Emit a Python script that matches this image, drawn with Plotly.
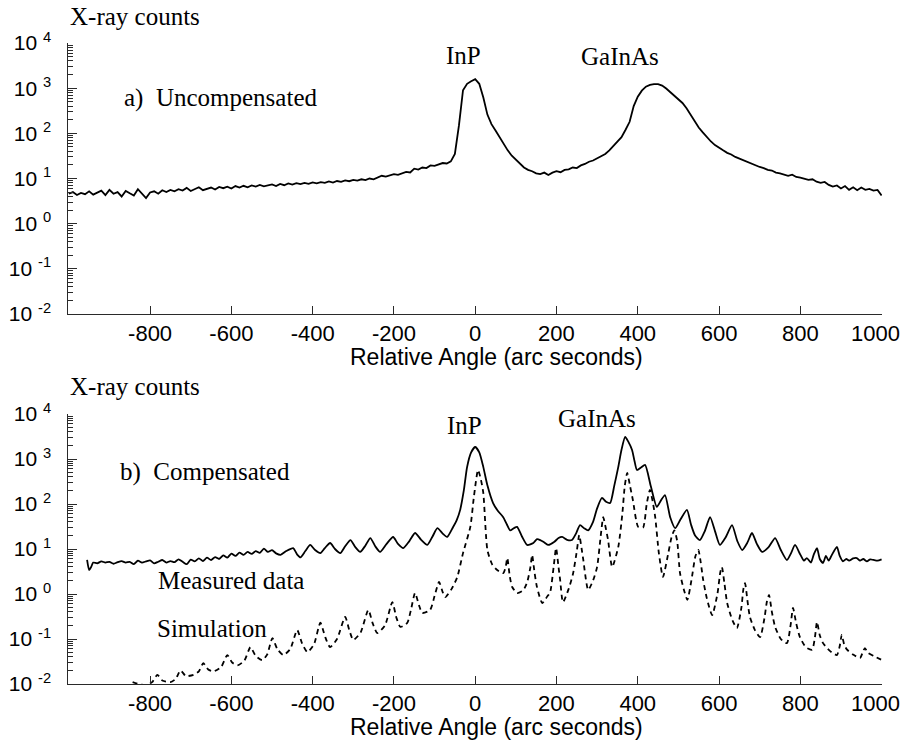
import plotly.graph_objects as go

# ---------------- data ----------------
# a) Uncompensated: measured X-ray counts, sampled every 10 arc seconds
angle_a = list(range(-1000, 1001, 10))
counts_a = [
    4.6, 5.0, 4.3, 4.8, 4.5, 5.2, 4.4, 4.9, 5.4, 4.3,
    5.6, 4.6, 5.0, 4.0, 5.3, 4.7, 4.2, 5.8, 4.5, 3.7,
    4.9, 5.2, 4.6, 5.5, 5.0, 5.6, 5.2, 5.8, 5.4, 6.2,
    5.3, 5.9, 6.4, 5.5, 6.0, 6.3, 5.7, 6.5, 6.1, 6.6,
    6.0, 6.8, 6.3, 6.9, 6.4, 7.0, 6.6, 7.2, 6.7, 7.0,
    7.4, 6.8, 7.6, 7.1, 7.8, 7.3, 7.9, 7.5, 8.0, 7.6,
    8.2, 7.8, 8.3, 8.0, 8.6, 8.1, 8.8, 8.4, 9.1, 8.7,
    9.3, 9.0, 9.6, 9.2, 10.0, 9.6, 10.4, 11.5, 11.0, 11.9,
    12.5, 12.0, 13.2, 14.0, 13.6, 16.5, 15.8, 17.5, 17.0, 19.5,
    19.0, 20.5, 22.0, 21.5, 24.0, 35, 150, 900, 1250, 1420,
    1580, 1250, 620, 260, 160, 115, 82, 55, 42, 32,
    26, 21, 17.5, 15.5, 14.5, 13.0, 12.5, 13.5, 12.0, 13.5,
    14.5, 13.8, 15.5, 16.0, 17.5, 17.0, 19.5, 21.0, 23.5, 25.0,
    28, 31, 35, 42, 52, 63, 82, 120, 180, 400,
    650, 880, 1080, 1180, 1230, 1230, 1140, 980, 820, 690,
    580, 470, 360, 260, 185, 135, 105, 82, 66, 55,
    47, 42, 37, 34, 30, 27.5, 25, 23, 21.5, 19.5,
    18.0, 17.0, 15.5, 15.0, 13.5, 13.0, 12.0, 11.5, 12.2, 10.8,
    10.5, 10.0, 9.3, 9.6, 8.5, 8.0, 8.4, 7.2, 6.6, 7.0,
    6.0, 6.8, 5.6, 6.4, 5.5, 6.3, 5.6, 5.9, 5.4, 5.6,
    4.2,
]

# b) Compensated: measured data
angle_b_meas = [
    -955, -950, -945, -940, -930, -920, -910, -900, -890, -880,
    -870, -860, -850, -840, -830, -820, -810, -800, -790, -780,
    -770, -760, -750, -740, -730, -720, -710, -700, -690, -680,
    -670, -660, -650, -640, -630, -620, -610, -600, -590, -580,
    -570, -560, -550, -540, -530, -520, -510, -500, -490, -479,
    -465, -448, -438, -430, -418, -406, -394, -381, -370, -357,
    -345, -332, -320, -307, -295, -283, -270, -258, -246, -234,
    -218, -202, -190, -177, -162, -148, -133, -118, -105, -93,
    -80, -69, -55, -45, -37, -28, -20, -10, 0, 10,
    20, 30, 44, 56, 69, 78, 86, 95, 103, 115,
    128, 143, 152, 160, 170, 180, 195, 205, 214, 226,
    238, 248, 258, 268, 278, 290, 300, 312, 322, 332,
    342, 352, 360, 369, 377, 386, 392, 398, 408, 418,
    432, 447, 457, 467, 480, 492, 505, 521, 531, 541,
    553, 565, 578, 590, 602, 616, 632, 645, 657, 670,
    681, 693, 706, 722, 738, 752, 767, 777, 787, 800,
    809, 816, 826, 833, 841, 848, 856, 863, 870, 878,
    890, 897, 905, 913, 920, 930, 939, 947, 955, 964,
    972, 980, 990, 1000,
]
counts_b_meas = [
    5.7, 3.4, 4.0, 5.0, 4.8, 5.3, 5.0, 5.2, 4.7, 5.1,
    5.4, 5.0, 5.2, 4.6, 5.5, 5.0, 5.3, 5.6, 4.8, 5.2,
    5.7, 5.0, 5.4, 5.1, 5.9, 5.2, 4.6, 5.8, 5.3, 6.2,
    5.4, 6.4, 5.7, 6.6, 6.0, 7.2, 6.4, 7.9, 7.0, 8.3,
    7.4, 8.6, 7.8, 9.0, 8.2, 10.2, 8.6, 9.4, 8.0, 7.4,
    9.0, 10.5, 7.5, 6.5, 9.0, 12.3, 9.5, 8.1, 10.5, 13.6,
    10.0, 8.1, 11.5, 15.8, 11.0, 8.6, 12.0, 17.5, 11.5, 8.6,
    13.0, 18.5, 13.0, 10.5, 15.0, 22.7, 16.0, 12.3, 19.0, 29,
    22, 18.5, 30, 45, 74, 200, 660, 1400, 1850, 1400,
    660, 260, 105, 70, 51, 35, 26, 29, 31, 19,
    12.3, 13.6, 16.5, 15.8, 14.0, 12.3, 14.5, 17.5, 18.5, 16.0,
    15.8, 22, 34, 29, 26, 40, 80, 136, 112, 105,
    250, 660, 1600, 3100, 2400, 1590, 900, 570, 650, 740,
    250, 86, 120, 158, 50, 29, 45, 74, 35, 20,
    15.8, 25, 51, 25, 12.3, 18, 34, 15, 9.5, 14,
    22.7, 13, 8.6, 11, 17.5, 9.5, 5.7, 8.0, 12.3, 7.5,
    5.5, 6.3, 5.0, 7.5, 10.5, 6.0, 4.9, 7.0, 5.5, 7.5,
    11.2, 7.0, 5.3, 6.0, 5.5, 6.2, 6.3, 5.5, 6.0, 5.3,
    5.9, 5.7, 5.5, 5.9,
]

# b) Compensated: simulation
angle_b_sim = [
    -843, -825, -807, -795, -782, -770, -750, -737, -725, -712,
    -693, -680, -669, -657, -644, -625, -610, -598, -585, -568,
    -553, -540, -524, -512, -499, -487, -472, -455, -438, -426,
    -413, -397, -381, -369, -357, -340, -320, -310, -300, -282,
    -263, -252, -241, -222, -204, -194, -184, -167, -158, -148,
    -138, -130, -111, -100, -89, -80, -74, -58, -44, -30,
    -12, -3, 7, 14, 20, 30, 42, 54, 69, 75,
    79, 85, 91, 103, 118, 128, 136, 140, 146, 152,
    165, 178, 184, 193, 199, 205, 209, 216, 230, 241,
    250, 256, 262, 266, 278, 290, 300, 309, 315, 321,
    327, 337, 352, 362, 368, 374, 381, 388, 401, 413,
    422, 430, 437, 443, 452, 462, 475, 483, 490, 497,
    504, 514, 522, 532, 542, 549, 555, 561, 570, 583,
    596, 603, 607, 613, 620, 633, 644, 655, 660, 664,
    670, 676, 688, 701, 712, 718, 723, 730, 738, 752,
    767, 776, 782, 790, 799, 814, 829, 836, 841, 848,
    856, 872, 890, 897, 902, 908, 915, 930, 947, 955,
    959, 966, 980, 1001,
]
counts_b_sim = [
    0.011, 0.0098, 0.0096, 0.011, 0.016, 0.012, 0.011, 0.013, 0.020, 0.015,
    0.016, 0.019, 0.029, 0.021, 0.019, 0.024, 0.044, 0.030, 0.026, 0.033,
    0.066, 0.042, 0.034, 0.045, 0.105, 0.060, 0.044, 0.060, 0.158, 0.080,
    0.051, 0.075, 0.23, 0.11, 0.066, 0.10, 0.31, 0.16, 0.095, 0.14,
    0.44, 0.22, 0.135, 0.20, 0.66, 0.30, 0.186, 0.23, 0.45, 1.05,
    0.55, 0.38, 0.44, 0.9, 1.85, 1.1, 0.85, 1.3, 2.4, 8.1,
    31, 150, 570, 350, 175, 9.5, 4.5, 3.4, 2.9, 4.0,
    6.3, 2.5, 1.43, 1.05, 1.2, 1.85, 4.0, 7.4, 3.0, 1.43,
    0.63, 0.9, 1.05, 4.0, 10.5, 4.0, 2.05, 0.66, 1.3, 2.9,
    9.0, 20.4, 10, 5.7, 1.23, 2.0, 4.0, 20, 51, 30,
    15.8, 4.0, 11, 60, 250, 490, 250, 123, 31, 30,
    100, 205, 110, 51, 8, 2.4, 8, 18, 26, 15,
    2.9, 1.2, 0.74, 2.0, 7, 9.5, 5, 2.05, 0.8, 0.34,
    1.0, 3, 4.0, 1.8, 0.63, 0.26, 0.175, 0.5, 1.3, 1.74,
    0.7, 0.31, 0.16, 0.11, 0.3, 0.7, 0.95, 0.4, 0.186, 0.10,
    0.081, 0.2, 0.49, 0.22, 0.11, 0.065, 0.058, 0.11, 0.24, 0.12,
    0.081, 0.055, 0.044, 0.07, 0.123, 0.075, 0.058, 0.045, 0.038, 0.055,
    0.063, 0.05, 0.042, 0.034,
]

x_tick_vals = [-800, -600, -400, -200, 0, 200, 400, 600, 800, 1000]
x_tick_text = ["-800", "-600", "-400", "-200", "0", "200", "400", "600", "800",
               "1000\u00a0\u00a0"]
y_tick_vals = [0.01, 0.1, 1, 10, 100, 1000, 10000]
y_tick_exp = ["-2", "-1", "0", "1", "2", "3", "4"]
y_tick_text = ["10 <sup>%s</sup>\u00a0\u00a0" % e for e in y_tick_exp]

# ---------------- layout helpers ----------------
W, H = 901, 743
PL, PR, PT, PB = 68, 882, 43, 684          # plot area in pixels
TOP_BOTTOM, BOT_TOP = 314, 414             # panel edges in pixels
X_RANGE = [-1002, 1001]


def fx(x):
    return (x - PL) / (PR - PL)


def fy(y):
    return (PB - y) / (PB - PT)


SANS = "Liberation Sans, Arial, Helvetica, sans-serif"
SERIF = "Liberation Serif, Times New Roman, Times, serif"
AX = "#2a2a2a"

fig = go.Figure()
fig.add_trace(go.Scatter(x=angle_a, y=counts_a, mode="lines",
                         line=dict(color="black", width=1.8),
                         xaxis="x", yaxis="y", showlegend=False, hoverinfo="skip"))
fig.add_trace(go.Scatter(x=angle_b_meas, y=counts_b_meas, mode="lines",
                         line=dict(color="black", width=1.8, shape="spline", smoothing=0.6),
                         xaxis="x2", yaxis="y2", showlegend=False, hoverinfo="skip"))
fig.add_trace(go.Scatter(x=angle_b_sim, y=counts_b_sim, mode="lines",
                         line=dict(color="black", width=1.8, dash="5px,4px",
                                   shape="spline", smoothing=0.6),
                         xaxis="x2", yaxis="y2", showlegend=False, hoverinfo="skip"))

minor_vals = [m * 10 ** k for k in range(-2, 4) for m in range(2, 10)]


def xaxis_cfg(anchor):
    return dict(range=X_RANGE, showline=True, linecolor=AX, linewidth=1,
                ticks="inside", ticklen=8, tickwidth=1, tickcolor=AX,
                tickmode="array", tickvals=x_tick_vals, ticktext=x_tick_text,
                ticklabeloverflow="allow", automargin=False,
                tickfont=dict(family=SANS, size=22, color="black"),
                showgrid=False, zeroline=False, domain=[0, 1], anchor=anchor)


def yaxis_cfg(anchor, domain):
    return dict(type="log", range=[-2, 4], showline=True, linecolor=AX, linewidth=1,
                ticks="inside", ticklen=9, tickwidth=1, tickcolor=AX,
                tickmode="array", tickvals=y_tick_vals, ticktext=y_tick_text,
                tickfont=dict(family=SANS, size=21, color="black"),
                automargin=False,
                minor=dict(ticks="inside", ticklen=5, tickwidth=1, tickcolor=AX,
                           tickmode="array", tickvals=minor_vals, showgrid=False),
                showgrid=False, zeroline=False, anchor=anchor, domain=domain)


fig.update_layout(
    width=W, height=H,
    margin=dict(l=PL, r=W - PR, t=PT, b=H - PB, autoexpand=False),
    paper_bgcolor="white", plot_bgcolor="white",
    xaxis=xaxis_cfg("y"),
    yaxis=yaxis_cfg("x", [fy(TOP_BOTTOM), 1]),
    xaxis2=xaxis_cfg("y2"),
    yaxis2=yaxis_cfg("x2", [0, fy(BOT_TOP)]),
)


def note(text, x, y, size=25, family=SERIF, xanchor="left"):
    fig.add_annotation(text=text, x=fx(x), y=fy(y), xref="paper", yref="paper",
                       xanchor=xanchor, yanchor="middle", showarrow=False,
                       font=dict(family=family, size=size, color="black"))


# axis titles
note("X-ray counts", 68, 16)
note("X-ray counts", 68, 386)
note("Relative Angle (arc seconds)", 497, 357, size=23, family=SANS, xanchor="center")
note("Relative Angle (arc seconds)", 497, 727, size=23, family=SANS, xanchor="center")

# panel labels
note("a)\u00a0\u00a0Uncompensated", 122, 98)
note("InP", 463, 55, xanchor="center")
note("GaInAs", 620, 57, xanchor="center")

note("b)\u00a0\u00a0Compensated", 118, 472)
note("InP", 464, 425, xanchor="center")
note("GaInAs", 597, 418, xanchor="center")
note("Measured data", 156, 580)
note("Simulation", 155, 628)

post = "document.body.style.margin='0px';document.body.style.padding='0px';"
fig.write_html("out.html", config={"displayModeBar": False}, post_script=post)
